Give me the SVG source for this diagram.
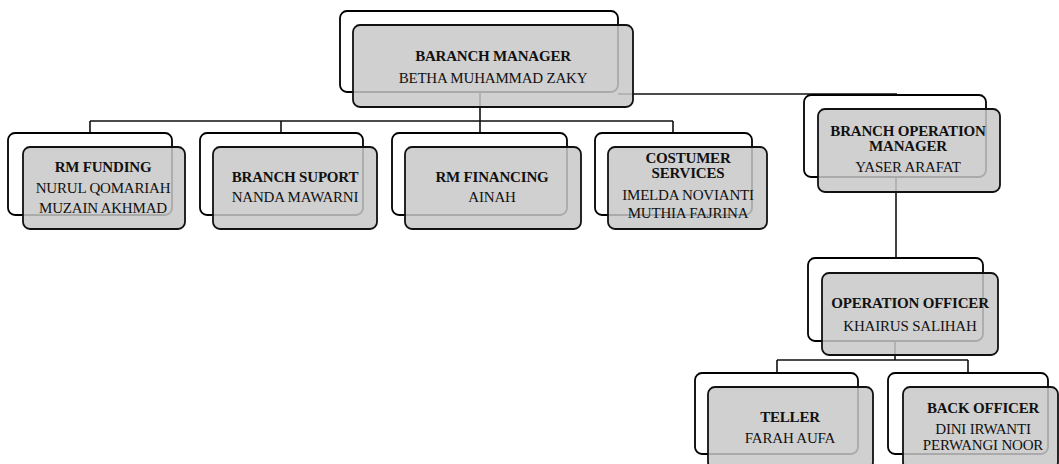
<svg xmlns="http://www.w3.org/2000/svg" width="1059" height="464" viewBox="0 0 1059 464">
<style>
.back{fill:#ffffff;stroke:#000;stroke-width:1.8}
.front{fill:#c8c8c8;fill-opacity:0.85;stroke:#111;stroke-width:1.8}
.conn{fill:none;stroke:#111;stroke-width:1.6}
.t{font-family:"Liberation Serif","Times New Roman",serif;font-size:15px;text-anchor:middle;fill:#111;letter-spacing:-0.2px}
.b{font-weight:bold}
</style>
<rect width="1059" height="464" fill="#fff"/>
<g id="connectors">
<path class="conn" d="M480 92 V121 M90 121 H673 M90 121 V133 M281 121 V133 M480 121 V133 M673 121 V133"/>
<path class="conn" d="M618 94 H897"/>
<path class="conn" d="M896 177 V258"/>
<path class="conn" d="M895 341 V360 M777 360 H968 M777 360 V373 M968 360 V373"/>
</g>
<g id="branch-manager">
<rect class="back" x="340" y="11" width="278" height="81" rx="7"/>
<rect class="front" x="353" y="25" width="280" height="82" rx="7"/>
<text class="t b" x="493" y="61">BARANCH MANAGER</text>
<text class="t" x="493" y="83">BETHA MUHAMMAD ZAKY</text>
</g>
<g id="rm-funding">
<rect class="back" x="8" y="133" width="164" height="82" rx="7"/>
<rect class="front" x="23" y="147" width="162" height="82" rx="7"/>
<text class="t b" x="103" y="172">RM FUNDING</text>
<text class="t" x="103" y="193">NURUL QOMARIAH</text>
<text class="t" x="103" y="213">MUZAIN AKHMAD</text>
</g>
<g id="branch-suport">
<rect class="back" x="200" y="133" width="163" height="82" rx="7"/>
<rect class="front" x="213" y="147" width="164" height="82" rx="7"/>
<text class="t b" x="295" y="182">BRANCH SUPORT</text>
<text class="t" x="295" y="202">NANDA MAWARNI</text>
</g>
<g id="rm-financing">
<rect class="back" x="392" y="133" width="175" height="82" rx="7"/>
<rect class="front" x="405" y="147" width="176" height="82" rx="7"/>
<text class="t b" x="492" y="182">RM FINANCING</text>
<text class="t" x="492" y="202">AINAH</text>
</g>
<g id="costumer-services">
<rect class="back" x="595" y="133" width="157" height="82" rx="7"/>
<rect class="front" x="608" y="147" width="159" height="82" rx="7"/>
<text class="t b" x="688" y="163">COSTUMER</text>
<text class="t b" x="688" y="178">SERVICES</text>
<text class="t" x="688" y="200">IMELDA NOVIANTI</text>
<text class="t" x="688" y="218">MUTHIA FAJRINA</text>
</g>
<g id="branch-operation-manager">
<rect class="back" x="804" y="95" width="182" height="82" rx="7"/>
<rect class="front" x="818" y="109" width="182" height="83" rx="7"/>
<text class="t b" x="908" y="136">BRANCH OPERATION</text>
<text class="t b" x="908" y="151">MANAGER</text>
<text class="t" x="908" y="172">YASER ARAFAT</text>
</g>
<g id="operation-officer">
<rect class="back" x="808" y="258" width="175" height="83" rx="7"/>
<rect class="front" x="822" y="273" width="176" height="82" rx="7"/>
<text class="t b" x="910" y="308">OPERATION OFFICER</text>
<text class="t" x="910" y="331">KHAIRUS SALIHAH</text>
</g>
<g id="teller">
<rect class="back" x="695" y="373" width="163" height="81" rx="7"/>
<rect class="front" x="708" y="387" width="165" height="82" rx="7"/>
<text class="t b" x="790" y="422">TELLER</text>
<text class="t" x="790" y="443">FARAH AUFA</text>
</g>
<g id="back-officer">
<rect class="back" x="888" y="373" width="160" height="81" rx="7"/>
<rect class="front" x="903" y="387" width="155" height="82" rx="7"/>
<text class="t b" x="983" y="413">BACK OFFICER</text>
<text class="t" x="983" y="434">DINI IRWANTI</text>
<text class="t" x="983" y="450">PERWANGI NOOR</text>
</g>
</svg>
